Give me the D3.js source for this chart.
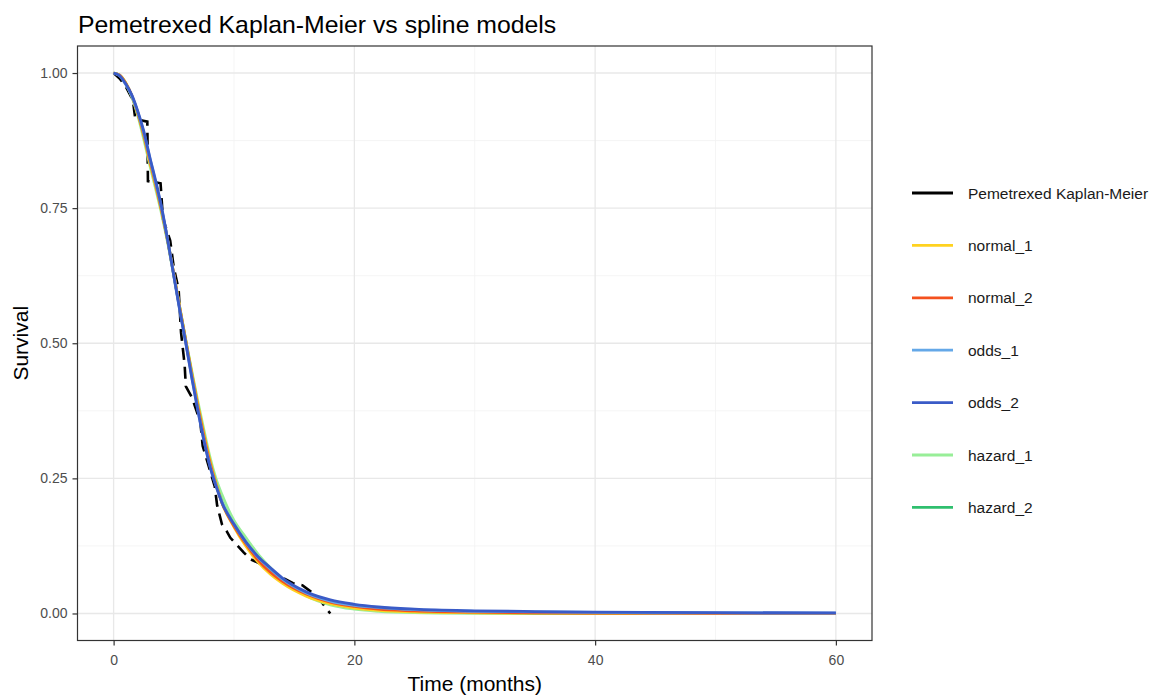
<!DOCTYPE html>
<html>
<head>
<meta charset="utf-8">
<script src="https://cdn.jsdelivr.net/npm/d3@7"></script>
<style>
  body { margin: 0; background: #fff; }
  svg { font-family: "Liberation Sans", Arial, sans-serif; }
</style>
</head>
<body>
<div id="chart"></div>
<script>
// KM estimate (time in months, survival)
const kmTime = [0, 0.5, 1.0, 1.6, 1.8, 2.8, 2.85, 3.9, 4.1, 4.7, 5.0, 5.4, 5.6, 5.9, 6.0, 6.5, 7.2, 7.4, 8.4, 8.6, 9.0, 9.4, 9.7, 10.8, 11.4, 12.2, 13.4, 14.9, 15.7, 17.0, 17.6, 18.0];
const kmSurv = [1.0, 0.99, 0.975, 0.95, 0.915, 0.91, 0.80, 0.796, 0.73, 0.69, 0.64, 0.60, 0.52, 0.46, 0.42, 0.40, 0.355, 0.31, 0.235, 0.20, 0.165, 0.152, 0.14, 0.113, 0.10, 0.092, 0.074, 0.056, 0.052, 0.03, 0.011, 0.0];

// spline model predictions on a shared time grid
const times = [0, 0.5, 1, 1.5, 2, 2.5, 3, 3.5, 4, 4.5, 5, 5.5, 6, 6.5, 7, 7.5, 8, 8.5, 9, 10, 11, 12, 13, 14, 16, 18, 20, 22, 25, 30, 35, 40, 50, 60];
const normal1 = [1.000, 0.996, 0.982, 0.958, 0.925, 0.884, 0.835, 0.790, 0.742, 0.688, 0.628, 0.566, 0.505, 0.445, 0.387, 0.333, 0.284, 0.242, 0.205, 0.160, 0.124, 0.095, 0.073, 0.056, 0.032, 0.018, 0.010, 0.006, 0.003, 0.0012, 0.0005, 0.0002, 0, 0];
const normal2 = [1.000, 0.996, 0.981, 0.959, 0.927, 0.887, 0.839, 0.794, 0.745, 0.689, 0.627, 0.564, 0.503, 0.441, 0.382, 0.328, 0.279, 0.239, 0.205, 0.162, 0.128, 0.099, 0.077, 0.060, 0.036, 0.021, 0.013, 0.008, 0.005, 0.0025, 0.0013, 0.0008, 0.0003, 0.0001];
const odds1 = [1.000, 0.995, 0.979, 0.958, 0.928, 0.890, 0.843, 0.797, 0.748, 0.689, 0.625, 0.561, 0.500, 0.437, 0.377, 0.322, 0.274, 0.237, 0.206, 0.165, 0.131, 0.104, 0.083, 0.064, 0.038, 0.023, 0.015, 0.011, 0.007, 0.004, 0.003, 0.002, 0.001, 0.0008];
const odds2 = [1.000, 0.995, 0.980, 0.960, 0.930, 0.893, 0.845, 0.800, 0.750, 0.690, 0.625, 0.560, 0.500, 0.435, 0.375, 0.320, 0.272, 0.236, 0.205, 0.165, 0.132, 0.105, 0.085, 0.066, 0.040, 0.025, 0.017, 0.012, 0.008, 0.005, 0.0035, 0.0025, 0.0015, 0.001];
const hazard1 = [1.000, 0.996, 0.982, 0.957, 0.922, 0.878, 0.830, 0.785, 0.738, 0.685, 0.625, 0.565, 0.505, 0.448, 0.392, 0.340, 0.290, 0.250, 0.220, 0.172, 0.140, 0.110, 0.085, 0.063, 0.033, 0.016, 0.008, 0.004, 0.0015, 0.0003, 0, 0, 0, 0];
const hazard2 = [1.000, 0.996, 0.981, 0.958, 0.926, 0.886, 0.838, 0.793, 0.744, 0.689, 0.627, 0.565, 0.504, 0.443, 0.385, 0.331, 0.282, 0.241, 0.206, 0.163, 0.127, 0.098, 0.076, 0.058, 0.034, 0.019, 0.011, 0.007, 0.004, 0.0018, 0.0008, 0.0004, 0.0001, 0];

const seriesNames = ["Pemetrexed Kaplan-Meier", "normal_1", "normal_2", "odds_1", "odds_2", "hazard_1", "hazard_2"];
const seriesColors = ["#000000", "#FFD21F", "#F4511E", "#64A8E8", "#3A5BC7", "#98EE98", "#2FBF6E"];
const xTicks = [0, 20, 40, 60];
const yTicks = [0, 0.25, 0.5, 0.75, 1];

const W = 1158, H = 697;
const panel = {left: 77.5, right: 872, top: 46, bottom: 640.5};

const svg = d3.select("#chart").append("svg").attr("width", W).attr("height", H);

const x = d3.scaleLinear().domain([-3, 63]).range([panel.left, panel.right]);
const y = d3.scaleLinear().domain([-0.05, 1.05]).range([panel.bottom, panel.top]);

// grid
const grid = svg.append("g");
[10, 30, 50].forEach(v => grid.append("line")
  .attr("x1", x(v)).attr("x2", x(v)).attr("y1", panel.top).attr("y2", panel.bottom)
  .attr("stroke", "#f2f2f2").attr("stroke-width", 0.8));
[0.125, 0.375, 0.625, 0.875].forEach(v => grid.append("line")
  .attr("x1", panel.left).attr("x2", panel.right).attr("y1", y(v)).attr("y2", y(v))
  .attr("stroke", "#f2f2f2").attr("stroke-width", 0.8));
xTicks.forEach(v => grid.append("line")
  .attr("x1", x(v)).attr("x2", x(v)).attr("y1", panel.top).attr("y2", panel.bottom)
  .attr("stroke", "#e8e8e8").attr("stroke-width", 1.3));
yTicks.forEach(v => grid.append("line")
  .attr("x1", panel.left).attr("x2", panel.right).attr("y1", y(v)).attr("y2", y(v))
  .attr("stroke", "#e8e8e8").attr("stroke-width", 1.3));

// KM dashed
const plot = svg.append("g");
const kmData = kmTime.map((t, i) => [t, kmSurv[i]]);
plot.append("path")
  .datum(kmData)
  .attr("fill", "none")
  .attr("stroke", "#000")
  .attr("stroke-width", 2.6)
  .attr("stroke-dasharray", "12,7")
  .attr("d", d3.line().x(d => x(d[0])).y(d => y(d[1])));

// splines (drawn so odds_2 ends on top)
const splines = [
  {name: "hazard_1", vals: hazard1},
  {name: "hazard_2", vals: hazard2},
  {name: "normal_1", vals: normal1},
  {name: "normal_2", vals: normal2},
  {name: "odds_1", vals: odds1},
  {name: "odds_2", vals: odds2}
];
const line = d3.line().curve(d3.curveMonotoneX).x(d => x(d[0])).y(d => y(d[1]));
splines.forEach(s => {
  plot.append("path")
    .datum(times.map((t, i) => [t, s.vals[i]]))
    .attr("fill", "none")
    .attr("stroke", seriesColors[seriesNames.indexOf(s.name)])
    .attr("stroke-width", 2.8)
    .attr("stroke-linejoin", "round")
    .attr("d", line);
});

// border
svg.append("rect")
  .attr("x", panel.left).attr("y", panel.top)
  .attr("width", panel.right - panel.left).attr("height", panel.bottom - panel.top)
  .attr("fill", "none").attr("stroke", "#333").attr("stroke-width", 1.2);

// axes
const xAxis = svg.append("g").attr("transform", `translate(0,${panel.bottom})`)
  .call(d3.axisBottom(x).tickValues(xTicks).tickSize(5).tickPadding(10).tickFormat(d3.format("d")));
const yAxis = svg.append("g").attr("transform", `translate(${panel.left},0)`)
  .call(d3.axisLeft(y).tickValues(yTicks).tickSize(5).tickPadding(5).tickFormat(d3.format(".2f")));
[xAxis, yAxis].forEach(a => {
  a.select(".domain").remove();
  a.selectAll(".tick line").attr("stroke", "#333").attr("stroke-width", 1.2);
  a.selectAll(".tick text").attr("fill", "#4d4d4d").style("font-size", "14px")
    .style("font-family", "'Liberation Sans', Arial, sans-serif");
});

// titles
svg.append("text").attr("x", 78).attr("y", 33)
  .style("font-size", "24.8px").attr("fill", "#000")
  .text("Pemetrexed Kaplan-Meier vs spline models");
svg.append("text").attr("x", (panel.left + panel.right) / 2).attr("y", 691)
  .attr("text-anchor", "middle").style("font-size", "21px")
  .text("Time (months)");
svg.append("text")
  .attr("transform", `translate(28,${(panel.top + panel.bottom) / 2}) rotate(-90)`)
  .attr("text-anchor", "middle").style("font-size", "21px")
  .text("Survival");

// legend
const legend = svg.append("g").attr("transform", "translate(912,193)");
seriesNames.forEach((n, i) => {
  const g = legend.append("g").attr("transform", `translate(0,${i * 52.4})`);
  g.append("line").attr("x1", 0).attr("x2", 41).attr("y1", 0).attr("y2", 0)
    .attr("stroke", seriesColors[i]).attr("stroke-width", 2.8);
  g.append("text").attr("x", 56).attr("y", 5.5).style("font-size", "15.5px")
    .attr("fill", "#1a1a1a").text(n);
});
</script>
</body>
</html>
